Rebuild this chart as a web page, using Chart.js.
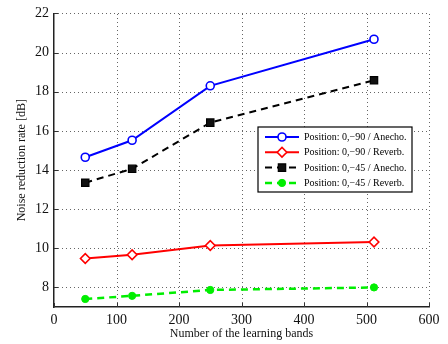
<!DOCTYPE html>
<html>
<head>
<meta charset="utf-8">
<script src="https://cdn.jsdelivr.net/npm/chart.js@4.4.0/dist/chart.umd.min.js"></script>
<style>
  html, body { margin: 0; padding: 0; background: #fff; }
  #wrap { width: 448px; height: 344px; }
</style>
</head>
<body>
<div id="wrap"><canvas id="noiseChart" width="448" height="344"></canvas></div>
<script>
// learning bands on the x axis
let bands = [50, 125, 250, 512];
let anecho90 = [14.65, 15.52, 18.3, 20.68];
let reverb90 = [9.48, 9.67, 10.14, 10.32];
let anecho45 = [13.35, 14.06, 16.42, 18.58];
let reverb45 = [7.41, 7.57, 7.87, 8.0];
let xTicks = [0, 100, 200, 300, 400, 500, 600];
let yTicks = [8, 10, 12, 14, 16, 18, 20, 22];
let seriesNames = [
  "Position: 0,\u221290 / Anecho.",
  "Position: 0,\u221290 / Reverb.",
  "Position: 0,\u221245 / Anecho.",
  "Position: 0,\u221245 / Reverb."
];

function pts(ys) { return bands.map((b, i) => ({x: b, y: ys[i]})); }

let serif = "'Liberation Serif', 'Times New Roman', serif";

// dotted grid, drawn by hand so the dots come out right
const dotGrid = {
  id: 'dotGrid',
  beforeDatasetsDraw(chart) {
    let ctx = chart.ctx, a = chart.chartArea;
    let xs = chart.scales.x, ys = chart.scales.y;
    ctx.save();
    ctx.strokeStyle = '#666';
    ctx.lineWidth = 1;
    ctx.setLineDash([1, 3]);
    ctx.beginPath();
    xTicks.forEach(v => {
      if (v === 0) return;
      let px = Math.round(xs.getPixelForValue(v)) + 0.5;
      ctx.moveTo(px, a.bottom); ctx.lineTo(px, a.top);
    });
    yTicks.forEach(v => {
      let py = Math.round(ys.getPixelForValue(v)) + 0.5;
      ctx.moveTo(a.left, py); ctx.lineTo(a.right, py);
    });
    ctx.stroke();
    ctx.setLineDash([]);
    // inward ticks on left and bottom
    ctx.strokeStyle = '#333';
    ctx.beginPath();
    xTicks.forEach(v => {
      let px = Math.round(xs.getPixelForValue(v)) + 0.5;
      ctx.moveTo(px, a.bottom); ctx.lineTo(px, a.bottom - 4);
    });
    yTicks.forEach(v => {
      let py = Math.round(ys.getPixelForValue(v)) + 0.5;
      ctx.moveTo(a.left, py); ctx.lineTo(a.left + 4, py);
    });
    ctx.stroke();
    ctx.restore();
  }
};

// legend drawn inside the plot, MATLAB style
const boxLegend = {
  id: 'boxLegend',
  afterDraw(chart) {
    let ctx = chart.ctx;
    let x0 = 258, y0 = 127, w = 154, h = 65;
    ctx.save();
    ctx.fillStyle = '#fff';
    ctx.fillRect(x0, y0, w, h);
    ctx.strokeStyle = '#000';
    ctx.lineWidth = 1.2;
    ctx.strokeRect(x0, y0, w, h);
    ctx.font = "10px " + serif;
    ctx.textBaseline = 'middle';
    chart.data.datasets.forEach((ds, i) => {
      let y = y0 + 10 + i * 15.3;
      ctx.strokeStyle = ds.borderColor;
      ctx.lineWidth = ds.borderWidth;
      ctx.setLineDash(ds.borderDash || []);
      ctx.beginPath();
      ctx.moveTo(265, y); ctx.lineTo(299, y);
      ctx.stroke();
      ctx.setLineDash([]);
      ctx.fillStyle = ds.pointBackgroundColor;
      ctx.strokeStyle = ds.borderColor;
      ctx.lineWidth = ds.pointBorderWidth;
      Chart.helpers.drawPoint(ctx, {
        pointStyle: ds.pointStyle, radius: ds.pointRadius, borderWidth: ds.pointBorderWidth, rotation: 0
      }, 282, y);
      ctx.fillStyle = '#000';
      ctx.fillText(seriesNames[i], 304, y + 0.5);
    });
    ctx.restore();
  }
};

new Chart(document.getElementById("noiseChart").getContext("2d"), {
  type: 'line',
  data: {
    datasets: [
      { label: seriesNames[0], data: pts(anecho90), borderColor: '#0000ff', borderWidth: 2,
        pointStyle: 'circle', pointRadius: 4, pointBorderWidth: 1.6, pointBackgroundColor: '#fff' },
      { label: seriesNames[1], data: pts(reverb90), borderColor: '#ff0000', borderWidth: 2,
        pointStyle: 'rectRot', pointRadius: 4.8, pointBorderWidth: 1.6, pointBackgroundColor: '#fff' },
      { label: seriesNames[2], data: pts(anecho45), borderColor: '#000000', borderWidth: 2, borderDash: [7, 5],
        pointStyle: 'rect', pointRadius: 5.2, pointBorderWidth: 1.2, pointBackgroundColor: '#111' },
      { label: seriesNames[3], data: pts(reverb45), borderColor: '#00ee00', borderWidth: 2.5, borderDash: [7, 5],
        pointStyle: 'circle', pointRadius: 3.6, pointBorderWidth: 1, pointBackgroundColor: '#00ee00' }
    ]
  },
  options: {
    responsive: false,
    animation: false,
    layout: { padding: { top: 12, right: 19, left: 0, bottom: 0 } },
    plugins: { legend: { display: false }, tooltip: { enabled: false } },
    elements: { line: { tension: 0 } },
    scales: {
      x: {
        type: 'linear', min: 0, max: 600,
        afterBuildTicks: s => { s.ticks = xTicks.map(v => ({value: v})); },
        afterFit: s => { s.height = 37; },
        grid: { display: false, drawTicks: false },
        border: { color: '#222', width: 1.5 },
        ticks: { color: '#111', padding: 5, font: { family: serif, size: 14 } },
        title: { display: true, text: 'Number of the learning bands', color: '#111',
          font: { family: serif, size: 12 }, padding: { bottom: 3, top: 0 } }
      },
      y: {
        type: 'linear', min: 7, max: 22,
        afterBuildTicks: s => { s.ticks = yTicks.map(v => ({value: v})); },
        afterFit: s => { s.width = 54; },
        grid: { display: false, drawTicks: false },
        border: { color: '#222', width: 1.5 },
        ticks: { color: '#111', padding: 5, font: { family: serif, size: 14 } },
        title: { display: true, text: 'Noise reduction rate [dB]', color: '#111',
          font: { family: serif, size: 12 }, padding: { top: 15, bottom: 0 } }
      }
    }
  },
  plugins: [dotGrid, boxLegend]
});
</script>
</body>
</html>
